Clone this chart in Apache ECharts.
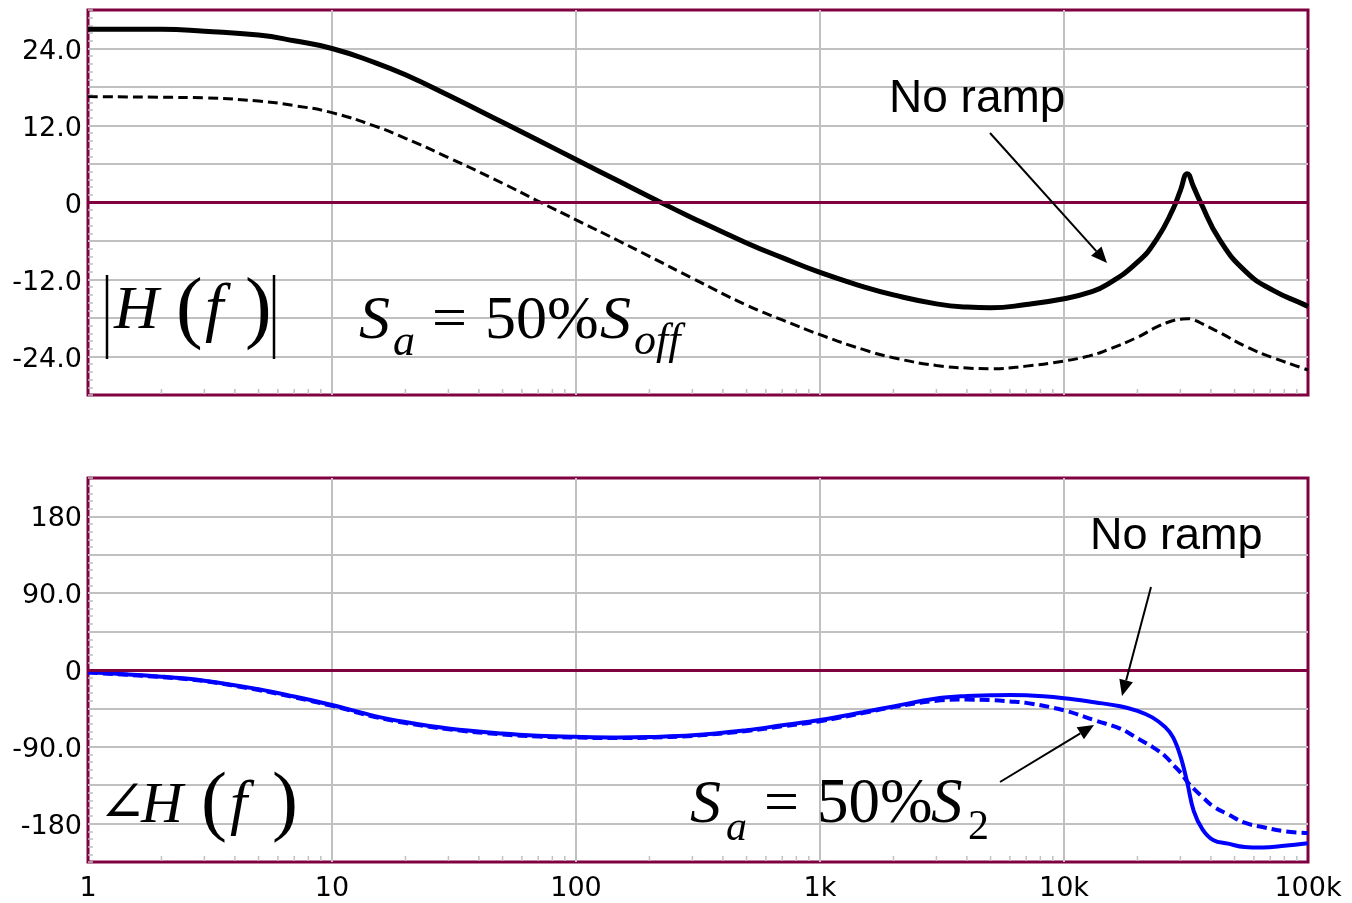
<!DOCTYPE html>
<html><head><meta charset="utf-8">
<script src="https://cdn.jsdelivr.net/npm/echarts@6/dist/echarts.min.js"></script>
<style>html,body{margin:0;padding:0;background:#fff}#c{width:1352px;height:903px}</style>
</head><body><div id="c"></div><script>
// ---- data ----
const freqMag = [1,2,3,5,7,10,15,20,30,50,70,100,150,200,300,500,700,1000,1500,2000,3000,4000,5000,7000,10000,12700,15000,20000,24000,28000,30000,32000,34000,36000,43600,56000,72000,95000,100000];
const magNoRamp = [27.0,27.0,26.7,26.1,25.2,24.0,21.8,19.9,16.7,12.5,9.7,6.7,3.3,0.9,-2.4,-6.3,-8.6,-10.9,-13.1,-14.4,-15.8,-16.3,-16.4,-15.9,-15.0,-14.0,-12.8,-9.3,-5.7,-1.0,1.9,4.5,2.4,0.3,-5.9,-10.9,-13.7,-15.8,-16.2];
const magWithRamp = [16.5,16.4,16.3,15.8,15.1,14.0,11.9,10.0,7.0,3.0,0.2,-2.7,-6.0,-8.4,-11.8,-16.0,-18.3,-20.6,-22.9,-24.2,-25.4,-25.8,-25.9,-25.5,-24.7,-23.9,-23.0,-21.0,-19.4,-18.4,-18.2,-18.1,-18.3,-18.7,-20.3,-22.5,-24.2,-25.8,-26.1];
const freqPhase = [1,2,3,5,7,10,15,20,30,50,70,100,150,200,300,500,700,1000,1500,2000,3000,4000,5000,6000,7000,10000,13500,17000,20000,23000,26000,28000,30000,32000,34000,37000,41000,47000,55000,65000,80000,100000];
const phaseNoRamp = [-2.7,-7.8,-12.5,-22.5,-31,-41,-54,-61,-68.5,-74.5,-77,-78.3,-79,-78.5,-76.6,-70.5,-64.8,-58.7,-49.5,-42.6,-33.5,-30.5,-29.7,-29.3,-29.6,-33,-38,-42.5,-48,-55.5,-67,-79,-101,-132,-165,-187,-199.5,-203.5,-207.4,-208,-206,-203];
const phaseWithRamp = [-3,-8.3,-13,-23.5,-32,-42,-55,-62,-69.5,-75.5,-78,-79.2,-79.8,-79.2,-77.2,-71.5,-66,-60,-50.5,-43.5,-36,-34.7,-35.3,-36.8,-38.5,-47.3,-59.3,-68.8,-80,-90,-101,-111,-120,-131,-139,-149,-160,-169,-179,-184,-189,-191];
const magTickValues = [24,12,0,-12,-24];
const magTickLabels = ['24.0','12.0','0','-12.0','-24.0'];
const phaseTickValues = [180,90,0,-90,-180];
const phaseTickLabels = ['180','90.0','0','-90.0','-180'];
const freqTickExponents = [0,1,2,3,4,5];
const freqTickLabels = ['1','10','100','1k','10k','100k'];
const minorTickFreqs = [];
for (const d of [1,10,100,1000,10000]) for (const m of [2,3,4,5,6,7,8,9]) minorTickFreqs.push(d*m);

const zip = (xs, ys) => xs.map((x,i)=>[x, ys[i]]);
const BORDER = '#800040', GRIDC = '#c0c0c0';
const tickFont = {fontFamily:'DejaVu Sans', fontSize:27, color:'#000'};

function yAxis(idx, min, max, interval, vals, labels){
  return {gridIndex: idx, type:'value', min, max, interval,
    axisLine:{show:false},
    axisTick:{show:true, inside:true, length:5, lineStyle:{color:GRIDC, width:1.5}},
    minorTick:{show:true, splitNumber:5, length:5, lineStyle:{color:GRIDC, width:1.5}},
    splitLine:{show:true, showMinLine:false, showMaxLine:false, lineStyle:{color:GRIDC, width:2}},
    axisLabel:{...tickFont, margin:6, showMinLabel:true, showMaxLabel:true,
      formatter: v => { const i = vals.indexOf(Math.round(v)); return i>=0 ? '{l|' + labels[i] + '}' : ''; },
      rich:{l:{fontFamily:'DejaVu Sans', fontSize:27, color:'#000', padding:[6,0,0,0]}}}
  };
}
function xAxis(idx, showLabels){
  return {gridIndex: idx, type:'log', logBase:10, min:1, max:100000,
    axisLine:{show:false}, axisTick:{show:false},
    splitLine:{show:true, showMinLine:false, showMaxLine:false, lineStyle:{color:GRIDC, width:2}},
    axisLabel:{show:showLabels, ...tickFont, margin:13,
      formatter: v => { const i = freqTickExponents.indexOf(Math.round(Math.log10(v))); return i>=0 ? freqTickLabels[i] : ''; }}
  };
}
function minorTicks(idx, ymin){
  return {type:'custom', xAxisIndex:idx, yAxisIndex:idx, silent:true, z:1,
    data: minorTickFreqs.map(f=>[f, ymin]),
    renderItem:(p, api)=>{ const pt = api.coord([api.value(0), api.value(1)]);
      return {type:'line', shape:{x1:pt[0], y1:pt[1]-1, x2:pt[0], y2:pt[1]-6}, style:{stroke:GRIDC, lineWidth:1.5}}; }
  };
}
function zeroLine(idx){
  return {type:'line', xAxisIndex:idx, yAxisIndex:idx, data:[], z:1, silent:true,
    markLine:{silent:true, symbol:'none', label:{show:false}, animation:false,
      lineStyle:{color:BORDER, width:3, type:'solid'}, data:[{yAxis:0}]}};
}
function arrow(x1,y1,x2,y2){
  const L=16, H=7, dx=x2-x1, dy=y2-y1, len=Math.hypot(dx,dy), ux=dx/len, uy=dy/len;
  const bx=x2-ux*L, by=y2-uy*L;
  return [
    {type:'line', shape:{x1, y1, x2:bx, y2:by}, style:{stroke:'#000', lineWidth:2}, z:10},
    {type:'polygon', shape:{points:[[x2,y2],[bx-uy*H, by+ux*H],[bx+uy*H, by-ux*H]]}, style:{fill:'#000'}, z:10}
  ];
}
const SERIF = "'Liberation Serif','Times New Roman',serif";
function t(text, x, y, fs, italic, family){
  return {type:'text', x, y, z:10, style:{text, fill:'#000', font: (italic?'italic ':'') + fs + 'px ' + (family||SERIF), verticalAlign:'middle', align:'left'}};
}
function bar(x, y1, y2){ return {type:'line', shape:{x1:x, y1, x2:x, y2}, style:{stroke:'#000', lineWidth:2.5}, z:10}; }

const chart = echarts.init(document.getElementById('c'), null, {renderer:'canvas'});
chart.setOption({
  animation:false,
  backgroundColor:'#fff',
  grid:[
    {left:88, top:10, width:1220, height:385, show:true, borderColor:BORDER, borderWidth:3, backgroundColor:'transparent'},
    {left:88, top:478, width:1220, height:384, show:true, borderColor:BORDER, borderWidth:3, backgroundColor:'transparent'}
  ],
  xAxis:[xAxis(0,false), xAxis(1,true)],
  yAxis:[yAxis(0,-30,30,6,magTickValues,magTickLabels), yAxis(1,-225,225,45,phaseTickValues,phaseTickLabels)],
  series:[
    zeroLine(0), zeroLine(1), minorTicks(0,-30), minorTicks(1,-225),
    {type:'line', xAxisIndex:0, yAxisIndex:0, data:zip(freqMag, magNoRamp), showSymbol:false, smooth:0.5, lineStyle:{color:'#000', width:5}, z:3},
    {type:'line', xAxisIndex:0, yAxisIndex:0, data:zip(freqMag, magWithRamp), showSymbol:false, smooth:0.5, lineStyle:{color:'#000', width:3, type:[10,5]}, z:3},
    {type:'line', xAxisIndex:1, yAxisIndex:1, data:zip(freqPhase, phaseNoRamp), showSymbol:false, smooth:0.4, lineStyle:{color:'#0000ff', width:4}, z:3},
    {type:'line', xAxisIndex:1, yAxisIndex:1, data:zip(freqPhase, phaseWithRamp), showSymbol:false, smooth:0.4, lineStyle:{color:'#0000ff', width:4, type:[10,5]}, z:3}
  ],
  graphic:[
    t('No ramp', 889, 99, 46, false, "'Liberation Sans',Arial,sans-serif"),
    t('No ramp', 1090, 537, 45, false, "'Liberation Sans',Arial,sans-serif"),
    ...arrow(990,133,1107,263),
    ...arrow(1151,587,1122,696),
    ...arrow(1000,782,1094,725),
    bar(107,275,359), bar(274,275,359),
    t('H', 114, 312, 62, true), t('(', 176, 312, 80, false), t('f', 205, 312, 66, true), t(')', 245, 312, 80, false),
    t('S', 359, 322, 62, true), t('a', 393, 343, 44, true), t('=', 432, 322, 62, false), t('50%', 485, 322, 62, false), t('S', 600, 322, 62, true), t('off', 634, 342, 44, true),
    t('\u2220', 98, 807, 58, false, "'DejaVu Serif','DejaVu Sans',serif"), t('H', 141, 807, 58, true), t('(', 201, 806, 78, false), t('f', 230, 807, 62, true), t(')', 272, 806, 78, false),
    t('S', 690, 806, 62, true), t('a', 726, 829, 42, true), t('=', 764, 806, 62, false), t('50%', 817, 805, 63, false), t('S', 931, 805, 63, true), t('2', 968, 828, 42, false)
  ]
});
</script></body></html>
